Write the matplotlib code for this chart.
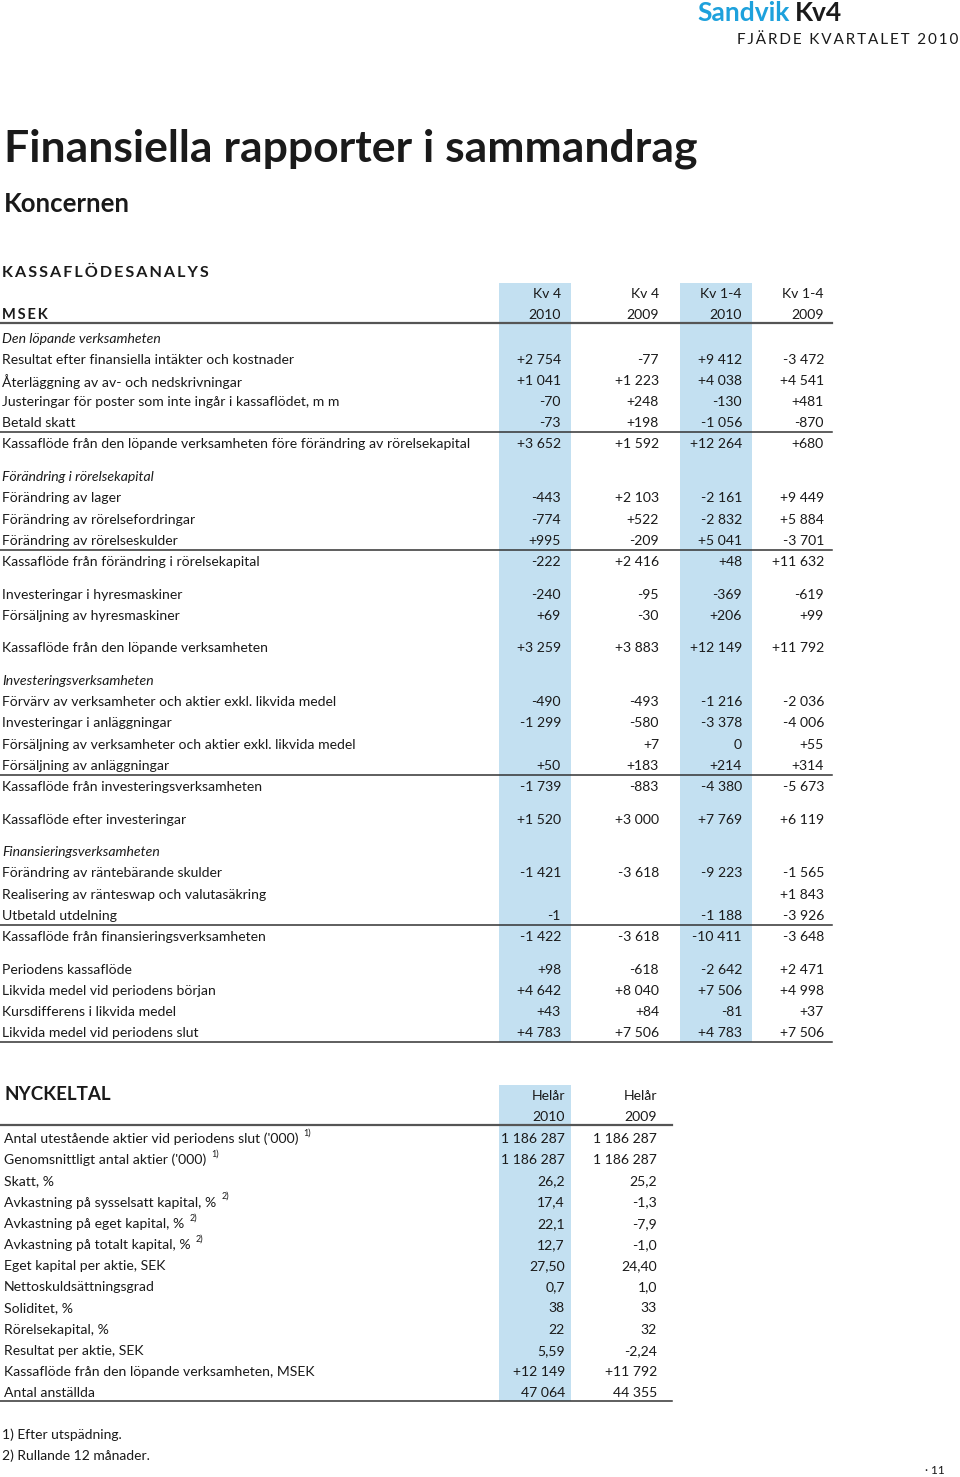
import numpy as np
import matplotlib.pyplot as plt

plt.rcParams['font.family'] = ['Lato', 'DejaVu Sans']

# Kassaflödesanalys, MSEK
cf_columns = [("Kv 4", "2010"), ("Kv 4", "2009"), ("Kv 1-4", "2010"), ("Kv 1-4", "2009")]
cf_labels = [
    "Den löpande verksamheten",
    "Resultat efter finansiella intäkter och kostnader",
    "Återläggning av av- och nedskrivningar",
    "Justeringar för poster som inte ingår i kassaflödet, m m",
    "Betald skatt",
    "Kassaflöde från den löpande verksamheten före förändring av rörelsekapital",
    "",
    "Förändring i rörelsekapital",
    "Förändring av lager",
    "Förändring av rörelsefordringar",
    "Förändring av rörelseskulder",
    "Kassaflöde från förändring i rörelsekapital",
    "",
    "Investeringar i hyresmaskiner",
    "Försäljning av hyresmaskiner",
    "",
    "Kassaflöde från den löpande verksamheten",
    "",
    "Investeringsverksamheten",
    "Förvärv av verksamheter och aktier exkl. likvida medel",
    "Investeringar i anläggningar",
    "Försäljning av verksamheter och aktier exkl. likvida medel",
    "Försäljning av anläggningar",
    "Kassaflöde från investeringsverksamheten",
    "",
    "Kassaflöde efter investeringar",
    "",
    "Finansieringsverksamheten",
    "Förändring av räntebärande skulder",
    "Realisering av ränteswap och valutasäkring",
    "Utbetald utdelning",
    "Kassaflöde från finansieringsverksamheten",
    "",
    "Periodens kassaflöde",
    "Likvida medel vid periodens början",
    "Kursdifferens i likvida medel",
    "Likvida medel vid periodens slut",
]
N = None
kv4_2010 = [N, 2754, 1041, -70, -73, 3652, N, N, -443, -774, 995, -222, N, -240, 69, N, 3259, N,
            N, -490, -1299, N, 50, -1739, N, 1520, N, N, -1421, N, -1, -1422, N, 98, 4642, 43, 4783]
kv4_2009 = [N, -77, 1223, 248, 198, 1592, N, N, 2103, 522, -209, 2416, N, -95, -30, N, 3883, N,
            N, -493, -580, 7, 183, -883, N, 3000, N, N, -3618, N, N, -3618, N, -618, 8040, 84, 7506]
ytd_2010 = [N, 9412, 4038, -130, -1056, 12264, N, N, -2161, -2832, 5041, 48, N, -369, 206, N, 12149, N,
            N, -1216, -3378, 0, 214, -4380, N, 7769, N, N, -9223, N, -1188, -10411, N, -2642, 7506, -81, 4783]
ytd_2009 = [N, -3472, 4541, 481, -870, 680, N, N, 9449, 5884, -3701, 11632, N, -619, 99, N, 11792, N,
            N, -2036, -4006, 55, 314, -5673, N, 6119, N, N, -1565, 1843, -3926, -3648, N, 2471, 4998, 37, 7506]
cf_italic = ["Den löpande verksamheten", "Förändring i rörelsekapital",
             "Investeringsverksamheten", "Finansieringsverksamheten"]
cf_underlined = ["Betald skatt", "Förändring av rörelseskulder", "Försäljning av anläggningar",
                 "Utbetald utdelning", "Likvida medel vid periodens slut"]

# Nyckeltal
nt_columns = [("Helår", "2010"), ("Helår", "2009")]
nt_labels = [
    "Antal utestående aktier vid periodens slut ('000)",
    "Genomsnittligt antal aktier ('000)",
    "Skatt, %",
    "Avkastning på sysselsatt kapital, %",
    "Avkastning på eget kapital, %",
    "Avkastning på totalt kapital, %",
    "Eget kapital per aktie, SEK",
    "Nettoskuldsättningsgrad",
    "Soliditet, %",
    "Rörelsekapital, %",
    "Resultat per aktie, SEK",
    "Kassaflöde från den löpande verksamheten, MSEK",
    "Antal anställda",
]
nt_notes = ["1)", "1)", "", "2)", "2)", "2)", "", "", "", "", "", "", ""]
nt_2010 = [1186287, 1186287, 26.2, 17.4, 22.1, 12.7, 27.50, 0.7, 38, 22, 5.59, 12149, 47064]
nt_2009 = [1186287, 1186287, 25.2, -1.3, -7.9, -1.0, 24.40, 1.0, 33, 32, -2.24, 11792, 44355]
nt_decimals = [0, 0, 1, 1, 1, 1, 2, 1, 0, 0, 2, 0, 0]
nt_signed = [False] * 11 + [True, False]

footnotes = ["1) Efter utspädning.", "2) Rullande 12 månader."]

BLUE_BG = '#c3e0f1'
SANDVIK = '#1ea1dc'
TXT = '#1a1a1a'
FS = 10.1


def fmt(v, dec=0, signed=True):
    if v is None:
        return ""
    s = f"{abs(v):,.{dec}f}".replace(",", " ").replace(".", ",")
    if v < 0:
        return "-" + s
    if signed and v != 0:
        return "+" + s
    return s


fig = plt.figure(figsize=(9.6, 14.77), dpi=100)
ax = fig.add_axes([0, 0, 1, 1])
ax.set_xlim(0, 960)
ax.set_ylim(1477, 0)
ax.axis('off')
renderer = fig.canvas.get_renderer()

# page header
ax.text(697, 13, "Sandvik", color=SANDVIK, fontsize=19, fontweight='bold', va='center')
ax.text(795, 13, "Kv4", color=TXT, fontsize=19, fontweight='bold', va='center')
ax.text(958, 40, "\u2009".join("FJÄRDE KVARTALET 2010"), color=TXT, fontsize=11,
        ha='right', va='center')

ax.text(4, 149, "Finansiella rapporter i sammandrag", fontsize=32, fontweight='bold',
        color=TXT, va='center')
ax.text(4, 204, "Koncernen", fontsize=18.5, fontweight='bold', color=TXT, va='center')
ax.text(2, 273, "\u2009".join("KASSAFLÖDESANALYS"), fontsize=11.6, fontweight='bold',
        color=TXT, va='center')

# cash flow table
cf_right = [561, 659, 742, 824]
shade_cols = [0, 2]
step, gap = 21.1, 11.7
ys = []
y = 339
for lab in cf_labels:
    if lab == "":
        ys.append(None)
        y += gap
        continue
    ys.append(y)
    y += step
y_last = [v for v in ys if v is not None][-1]

for c in shade_cols:
    ax.add_patch(plt.Rectangle((cf_right[c] - 62, 283), 72, y_last + 9 - 283,
                               color=BLUE_BG, lw=0, zorder=0))

for i, (top, bot) in enumerate(cf_columns):
    ax.text(cf_right[i], 294, top, ha='right', va='center', fontsize=FS, color=TXT)
    ax.text(cf_right[i], 315, bot, ha='right', va='center', fontsize=FS, color=TXT)
ax.text(2, 315, "\u2009".join("MSEK"), fontsize=10.5, fontweight='bold', va='center', color=TXT)
ax.plot([0, 832], [323, 323], color='#555555', lw=1.6)

for lab, yy, a, b, c, d in zip(cf_labels, ys, kv4_2010, kv4_2009, ytd_2010, ytd_2009):
    if yy is None:
        continue
    style = 'italic' if lab in cf_italic else 'normal'
    ax.text(2, yy, lab, fontsize=FS, style=style, va='center', color=TXT)
    for x, v in zip(cf_right, [a, b, c, d]):
        ax.text(x, yy, fmt(v), fontsize=FS, ha='right', va='center', color=TXT)
    if lab in cf_underlined:
        ax.plot([0, 832], [yy + 9, yy + 9], color='#333333', lw=1.1)

# nyckeltal
nt_right = [565, 657]
ax.text(4, 1094, "NYCKELTAL", fontsize=13.5, fontweight='bold', va='center', color=TXT)
nt_ys = 1139 + np.arange(len(nt_labels)) * 21.17
ax.add_patch(plt.Rectangle((499, 1085), 72, nt_ys[-1] + 8 - 1085, color=BLUE_BG, lw=0, zorder=0))
for i, (top, bot) in enumerate(nt_columns):
    ax.text(nt_right[i], 1096, top, ha='right', va='center', fontsize=FS, color=TXT)
    ax.text(nt_right[i], 1117, bot, ha='right', va='center', fontsize=FS, color=TXT)
ax.plot([0, 672], [1125, 1125], color='#555555', lw=1.6)
for lab, note, yy, a, b, dec, sg in zip(nt_labels, nt_notes, nt_ys, nt_2010, nt_2009,
                                        nt_decimals, nt_signed):
    t = ax.text(4, yy, lab, fontsize=FS, va='center', color=TXT)
    if note:
        bb = t.get_window_extent(renderer)
        ax.text(bb.x1 + 5, yy - 6, note, fontsize=6.5, va='center', color=TXT)
    ax.text(nt_right[0], yy, fmt(a, dec, sg), fontsize=FS, ha='right', va='center', color=TXT)
    ax.text(nt_right[1], yy, fmt(b, dec, sg), fontsize=FS, ha='right', va='center', color=TXT)
ax.plot([0, 672], [nt_ys[-1] + 8, nt_ys[-1] + 8], color='#333333', lw=1.1)

for k, note in enumerate(footnotes):
    ax.text(2, 1435 + k * 21, note, fontsize=10, va='center', color=TXT)
ax.text(945, 1470, "· 11", fontsize=8.5, ha='right', va='center', color=TXT)

fig.savefig("out.png", dpi=100)
